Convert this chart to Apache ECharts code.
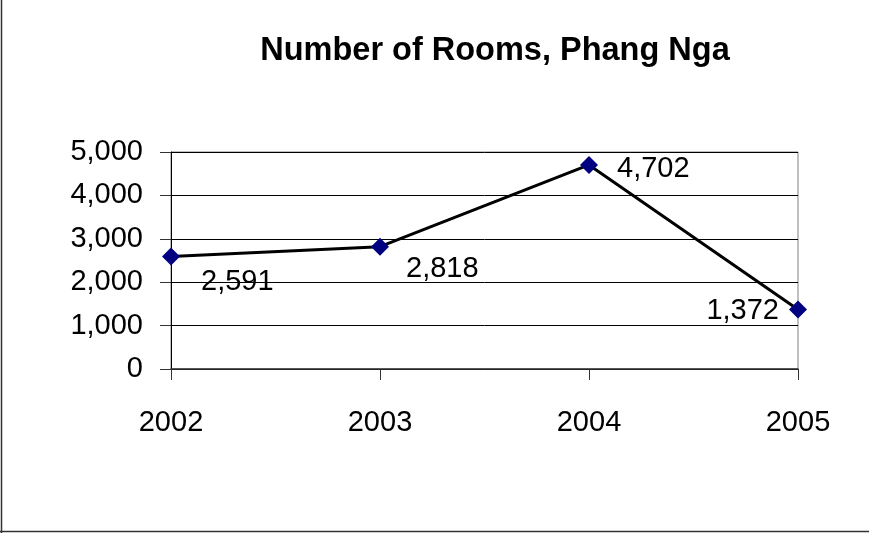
<!DOCTYPE html>
<html><head><meta charset="utf-8">
<script src="https://cdn.jsdelivr.net/npm/echarts@6/dist/echarts.min.js"></script>
<style>html,body{margin:0;padding:0;background:#fff}#c{width:869px;height:533px}</style>
</head><body><div id="c"></div>
<script>
const categories = ['2002', '2003', '2004', '2005'];
const rooms = [2591, 2818, 4702, 1372];
const yTicks = [0, 1000, 2000, 3000, 4000, 5000];
const FONT = '"Liberation Sans Narrow", "Arial Narrow", "Liberation Sans", sans-serif';
const labelOffsets = [[16, 25], [12, 22], [14, 4], [-5, 2]];
const labelPos = ['right', 'right', 'right', 'left'];
const chart = echarts.init(document.getElementById('c'), null, {renderer: 'canvas'});
chart.setOption({
  animation: false,
  backgroundColor: '#fff',
  title: {
    text: 'Number of Rooms, Phang Nga',
    left: 490, top: 30, textAlign: 'center',
    textStyle: {fontFamily: FONT, fontSize: 32.5, fontWeight: 'bold', color: '#000'}
  },
  grid: {left: 171, right: 71, top: 152, bottom: 164, containLabel: false, show: true, borderColor: '#808080', borderWidth: 1},
  xAxis: {
    type: 'category', data: categories, boundaryGap: false,
    axisLine: {lineStyle: {color: '#333', width: 1.5}},
    axisTick: {show: true, length: 11, lineStyle: {color: '#333'}},
    axisLabel: {fontFamily: FONT, fontSize: 29, color: '#000', margin: 39},
    splitLine: {show: false}
  },
  yAxis: {
    type: 'value', min: yTicks[0], max: yTicks[yTicks.length - 1], interval: 1000,
    axisLine: {show: true, lineStyle: {color: '#000', width: 1}},
    axisTick: {show: true, length: 11, lineStyle: {color: '#333'}},
    axisLabel: {fontFamily: FONT, fontSize: 29, color: '#000', margin: 28,
      formatter: v => v.toLocaleString('en-US')},
    splitLine: {show: true, lineStyle: {color: '#000', width: 1}}
  },
  series: [{
    type: 'line', data: rooms.map((v, i) => ({
      value: v,
      label: {position: labelPos[i], offset: labelOffsets[i]}
    })),
    symbol: 'diamond', symbolSize: 18,
    itemStyle: {color: '#000080'},
    lineStyle: {color: '#000', width: 3},
    label: {show: true, fontFamily: FONT, fontSize: 29, color: '#000',
      formatter: p => p.value.toLocaleString('en-US')},
    z: 3
  }],
  graphic: [
    {type: 'line', shape: {x1: 1.5, y1: 0, x2: 1.5, y2: 533}, style: {stroke: '#333', lineWidth: 1.5}},
    {type: 'line', shape: {x1: 0, y1: 531.5, x2: 869, y2: 531.5}, style: {stroke: '#333', lineWidth: 1.5}}
  ]
});
</script></body></html>
